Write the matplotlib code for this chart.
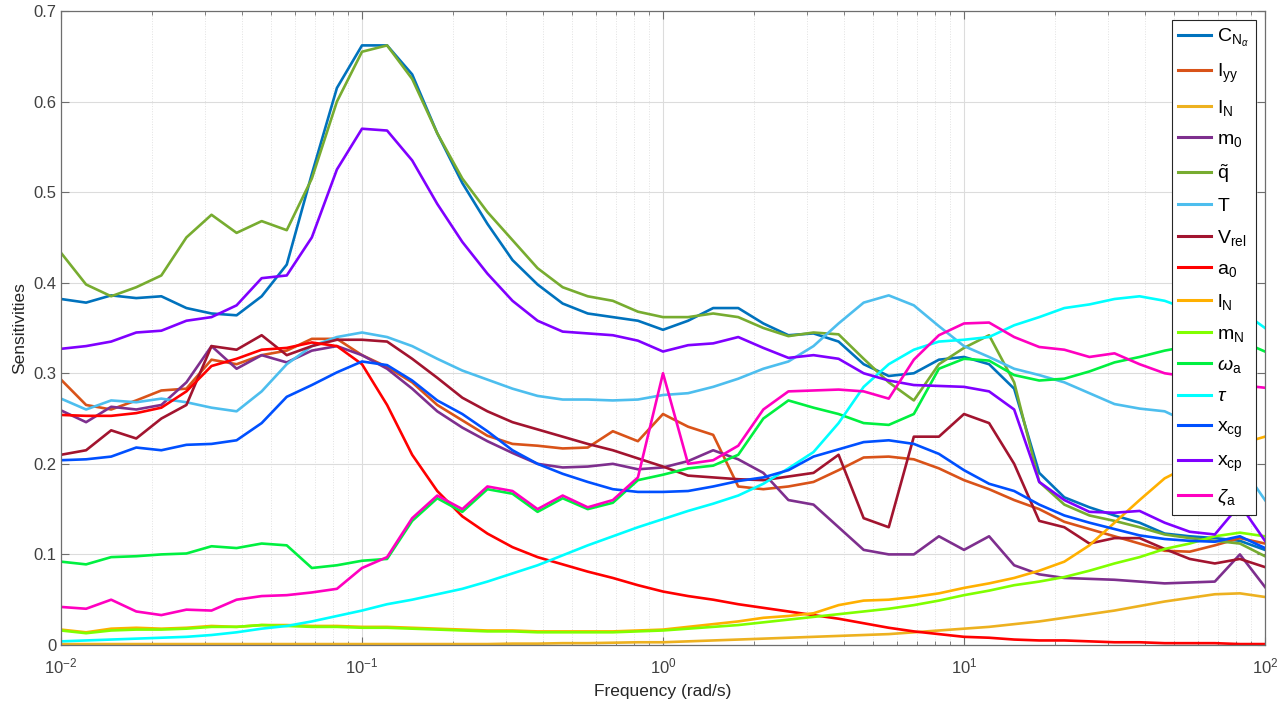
import numpy as np
import matplotlib
matplotlib.use("Agg")
import matplotlib.pyplot as plt

plt.rcParams['font.family'] = ['Liberation Sans', 'DejaVu Sans']
plt.rcParams['mathtext.fontset'] = 'custom'
plt.rcParams['mathtext.rm'] = 'Liberation Sans'
plt.rcParams['mathtext.it'] = 'Liberation Sans:italic'
plt.rcParams['mathtext.bf'] = 'Liberation Sans:bold'

# frequency samples (rad/s), 12 per decade
freq = np.logspace(-2, 2, 49)

c_n_alpha = [0.382, 0.378, 0.386, 0.383, 0.385, 0.372, 0.366, 0.364, 0.385, 0.42,
             0.52, 0.615, 0.662, 0.662, 0.63, 0.565, 0.51, 0.465, 0.425, 0.398,
             0.377, 0.366, 0.362, 0.358, 0.348, 0.358, 0.372, 0.372, 0.355, 0.342,
             0.344, 0.335, 0.31, 0.297, 0.30, 0.315, 0.318, 0.31, 0.283, 0.19,
             0.163, 0.152, 0.143, 0.135, 0.123, 0.12, 0.118, 0.115, 0.105]
i_yy = [0.293, 0.265, 0.26, 0.27, 0.281, 0.283, 0.315, 0.31, 0.32, 0.325,
        0.338, 0.338, 0.32, 0.307, 0.29, 0.265, 0.248, 0.231, 0.222, 0.22,
        0.217, 0.218, 0.236, 0.225, 0.255, 0.241, 0.232, 0.175, 0.172, 0.175,
        0.18, 0.193, 0.207, 0.208, 0.205, 0.195, 0.182, 0.172, 0.16, 0.15,
        0.136, 0.128, 0.12, 0.112, 0.104, 0.103, 0.11, 0.118, 0.112]
i_n = [0.001, 0.001, 0.001, 0.001, 0.001, 0.001, 0.001, 0.001, 0.001, 0.001,
       0.001, 0.001, 0.001, 0.001, 0.001, 0.001, 0.001, 0.001, 0.0015, 0.0015,
       0.002, 0.002, 0.0025, 0.003, 0.003, 0.004, 0.005, 0.006, 0.007, 0.008,
       0.009, 0.01, 0.011, 0.012, 0.014, 0.016, 0.018, 0.02, 0.023, 0.026,
       0.03, 0.034, 0.038, 0.043, 0.048, 0.052, 0.056, 0.057, 0.053]
m_0 = [0.259, 0.246, 0.263, 0.26, 0.265, 0.29, 0.33, 0.305, 0.32, 0.312,
       0.325, 0.33, 0.32, 0.305, 0.283, 0.258, 0.24, 0.225, 0.212, 0.2,
       0.196, 0.197, 0.2, 0.194, 0.196, 0.203, 0.215, 0.205, 0.19, 0.16,
       0.155, 0.13, 0.105, 0.1, 0.1, 0.12, 0.105, 0.12, 0.088, 0.078,
       0.074, 0.073, 0.072, 0.07, 0.068, 0.069, 0.07, 0.1, 0.064]
q_tilde = [0.433, 0.398, 0.385, 0.395, 0.408, 0.45, 0.475, 0.455, 0.468, 0.458,
           0.515, 0.60, 0.655, 0.662, 0.625, 0.565, 0.515, 0.478, 0.447, 0.416,
           0.395, 0.385, 0.38, 0.368, 0.362, 0.362, 0.366, 0.362, 0.35, 0.341,
           0.345, 0.343, 0.316, 0.29, 0.27, 0.31, 0.328, 0.342, 0.29, 0.18,
           0.155, 0.143, 0.137, 0.13, 0.122, 0.118, 0.115, 0.112, 0.098]
thrust = [0.272, 0.26, 0.27, 0.268, 0.272, 0.268, 0.262, 0.258, 0.28, 0.31,
          0.33, 0.34, 0.345, 0.34, 0.33, 0.316, 0.303, 0.293, 0.283, 0.275,
          0.271, 0.271, 0.27, 0.271, 0.276, 0.278, 0.285, 0.294, 0.305, 0.313,
          0.33, 0.355, 0.378, 0.386, 0.375, 0.352, 0.33, 0.318, 0.305, 0.298,
          0.29, 0.278, 0.266, 0.261, 0.258, 0.245, 0.225, 0.2, 0.16]
v_rel = [0.21, 0.215, 0.237, 0.228, 0.25, 0.265, 0.33, 0.326, 0.342, 0.32,
         0.33, 0.337, 0.337, 0.335, 0.316, 0.295, 0.273, 0.258, 0.246, 0.238,
         0.23, 0.222, 0.215, 0.206, 0.197, 0.187, 0.185, 0.183, 0.182, 0.186,
         0.19, 0.21, 0.14, 0.13, 0.23, 0.23, 0.255, 0.245, 0.2, 0.137,
         0.13, 0.112, 0.118, 0.118, 0.106, 0.095, 0.09, 0.095, 0.086]
a_0 = [0.254, 0.253, 0.253, 0.256, 0.262, 0.28, 0.308, 0.316, 0.326, 0.328,
       0.334, 0.33, 0.31, 0.265, 0.21, 0.17, 0.142, 0.123, 0.108, 0.097,
       0.089, 0.081, 0.074, 0.066, 0.059, 0.054, 0.05, 0.045, 0.041, 0.037,
       0.033, 0.029, 0.024, 0.019, 0.015, 0.012, 0.009, 0.008, 0.006, 0.005,
       0.005, 0.004, 0.003, 0.003, 0.002, 0.002, 0.002, 0.001, 0.001]
l_n = [0.017, 0.014, 0.018, 0.019, 0.018, 0.019, 0.021, 0.02, 0.022, 0.022,
       0.021, 0.021, 0.02, 0.02, 0.019, 0.018, 0.017, 0.016, 0.016, 0.015,
       0.015, 0.015, 0.015, 0.016, 0.017, 0.02, 0.023, 0.026, 0.03, 0.032,
       0.035, 0.044, 0.049, 0.05, 0.053, 0.057, 0.063, 0.068, 0.074, 0.082,
       0.092, 0.11, 0.135, 0.16, 0.184, 0.198, 0.21, 0.222, 0.23]
m_n = [0.016, 0.013, 0.016, 0.017, 0.017, 0.018, 0.02, 0.02, 0.022, 0.021,
       0.02, 0.02, 0.019, 0.019, 0.018, 0.017, 0.016, 0.015, 0.015, 0.014,
       0.014, 0.014, 0.014, 0.015, 0.016, 0.018, 0.02, 0.022, 0.025, 0.028,
       0.031, 0.034, 0.037, 0.04, 0.044, 0.049, 0.055, 0.06, 0.066, 0.07,
       0.075, 0.082, 0.09, 0.097, 0.106, 0.112, 0.12, 0.124, 0.12]
omega_a = [0.092, 0.089, 0.097, 0.098, 0.1, 0.101, 0.109, 0.107, 0.112, 0.11,
           0.085, 0.088, 0.093, 0.095, 0.137, 0.162, 0.147, 0.172, 0.167, 0.147,
           0.162, 0.15, 0.157, 0.182, 0.188, 0.195, 0.198, 0.21, 0.25, 0.27,
           0.262, 0.255, 0.245, 0.243, 0.255, 0.305, 0.316, 0.314, 0.298, 0.292,
           0.294, 0.302, 0.312, 0.318, 0.325, 0.33, 0.333, 0.336, 0.324]
tau = [0.004, 0.005, 0.006, 0.007, 0.008, 0.009, 0.011, 0.014, 0.018, 0.021,
       0.026, 0.032, 0.038, 0.045, 0.05, 0.056, 0.062, 0.07, 0.079, 0.088,
       0.099, 0.11, 0.12, 0.13, 0.139, 0.148, 0.156, 0.165, 0.178, 0.195,
       0.213, 0.245, 0.285, 0.31, 0.326, 0.335, 0.337, 0.34, 0.353, 0.362,
       0.372, 0.376, 0.382, 0.385, 0.38, 0.37, 0.37, 0.37, 0.35]
x_cg = [0.204, 0.205, 0.208, 0.218, 0.215, 0.221, 0.222, 0.226, 0.245, 0.274,
        0.287, 0.301, 0.313, 0.309, 0.292, 0.27, 0.255, 0.236, 0.215, 0.2,
        0.189, 0.18, 0.172, 0.169, 0.169, 0.17, 0.175, 0.181, 0.185, 0.193,
        0.208, 0.216, 0.224, 0.226, 0.222, 0.211, 0.193, 0.178, 0.17, 0.155,
        0.143, 0.135, 0.128, 0.121, 0.117, 0.115, 0.114, 0.12, 0.107]
x_cp = [0.327, 0.33, 0.335, 0.345, 0.347, 0.358, 0.362, 0.375, 0.405, 0.408,
        0.45, 0.525, 0.57, 0.568, 0.535, 0.487, 0.445, 0.41, 0.38, 0.358,
        0.346, 0.344, 0.342, 0.336, 0.324, 0.331, 0.333, 0.34, 0.328, 0.317,
        0.32, 0.316, 0.30, 0.292, 0.287, 0.286, 0.285, 0.28, 0.26, 0.18,
        0.16, 0.147, 0.146, 0.148, 0.135, 0.125, 0.122, 0.155, 0.115]
zeta_a = [0.042, 0.04, 0.05, 0.037, 0.033, 0.039, 0.038, 0.05, 0.054, 0.055,
          0.058, 0.062, 0.085, 0.097, 0.14, 0.165, 0.15, 0.175, 0.17, 0.15,
          0.165, 0.152, 0.16, 0.185, 0.3, 0.2, 0.204, 0.22, 0.26, 0.28,
          0.281, 0.282, 0.28, 0.272, 0.315, 0.342, 0.355, 0.356, 0.34, 0.329,
          0.326, 0.318, 0.322, 0.31, 0.3, 0.296, 0.29, 0.287, 0.284]

series = [
    (c_n_alpha, r'$\mathrm{C}_{\mathrm{N}_{\alpha}}$', '#0072BD'),
    (i_yy, r'$\mathrm{I}_{\mathrm{yy}}$', '#D95319'),
    (i_n, r'$\mathrm{I}_{\mathrm{N}}$', '#EDB120'),
    (m_0, r'$\mathrm{m}_{\mathrm{0}}$', '#7E2F8E'),
    (q_tilde, r'$\tilde{\mathrm{q}}$', '#77AC30'),
    (thrust, r'$\mathrm{T}$', '#4DBEEE'),
    (v_rel, r'$\mathrm{V}_{\mathrm{rel}}$', '#A2142F'),
    (a_0, r'$\mathrm{a}_{\mathrm{0}}$', '#FF0000'),
    (l_n, r'$\mathrm{l}_{\mathrm{N}}$', '#FFB000'),
    (m_n, r'$\mathrm{m}_{\mathrm{N}}$', '#80FF00'),
    (omega_a, r'$\omega_{\mathrm{a}}$', '#00F040'),
    (tau, r'$\tau$', '#00FFFF'),
    (x_cg, r'$\mathrm{x}_{\mathrm{cg}}$', '#0050FF'),
    (x_cp, r'$\mathrm{x}_{\mathrm{cp}}$', '#8000FF'),
    (zeta_a, r'$\zeta_{\mathrm{a}}$', '#FF00C0'),
]

fig = plt.figure(figsize=(12.87, 7.09), dpi=100)
ax = fig.add_axes([0.0474, 0.0903, 0.9355, 0.8942])

for vals, label, color in series:
    ax.plot(freq, vals, color=color, lw=1.9, label=label)

ax.set_xscale('log')
ax.set_xlim(1e-2, 1e2)
ax.set_ylim(0, 0.7)
ax.set_yticks(np.arange(0, 0.71, 0.1))
ax.set_yticklabels(['0', '0.1', '0.2', '0.3', '0.4', '0.5', '0.6', '0.7'])

ax.grid(True, which='major', color='#DCDCDC', lw=0.8)
ax.grid(True, which='minor', axis='x', color='#E2E2E2', lw=0.7, ls=':')
ax.set_axisbelow(True)

for s in ax.spines.values():
    s.set_color('#6E6E6E')
    s.set_linewidth(0.9)
ax.tick_params(which='both', direction='in', top=True, right=True,
               colors='#6E6E6E', labelcolor='#404040', labelsize=12)
ax.tick_params(which='major', length=6)
ax.tick_params(which='minor', length=3)
ax.tick_params(axis='x', which='major', pad=8)

ax.set_xlabel('Frequency (rad/s)', fontsize=12.5, color='#262626', labelpad=6)
ax.set_ylabel('Sensitivities', fontsize=12.5, color='#262626', labelpad=4)

leg = ax.legend(loc='upper right', bbox_to_anchor=(0.9925, 0.986), fontsize=14,
                handlelength=1.7, handletextpad=0.3, labelspacing=0.66,
                borderpad=0.35, fancybox=False, framealpha=1, borderaxespad=0)
leg.get_frame().set_edgecolor('#262626')
leg.get_frame().set_linewidth(0.8)
for line in leg.get_lines():
    line.set_linewidth(2.2)

fig.savefig('out.png', dpi=100)
